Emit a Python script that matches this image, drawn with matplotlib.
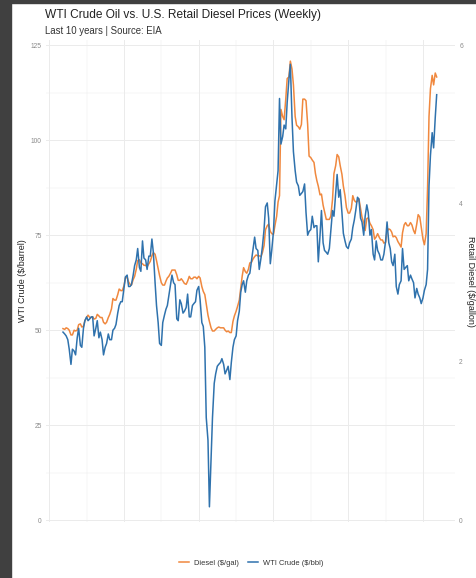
import matplotlib
matplotlib.use("Agg")
import matplotlib.pyplot as plt
import matplotlib.dates as mdates
from matplotlib.patches import Rectangle
from matplotlib.lines import Line2D
import pandas as pd

plt.rcParams['font.family'] = ['Liberation Sans', 'DejaVu Sans']

# ---- data (semi-monthly readings, mid-May 2016 .. mid-May 2026) ----
dates = pd.date_range("2016-05-15", "2026-05-15", freq="SMS")

wti = [
    # 2016 May15 .. Dec15
    49.5, 49.0, 48.5, 47.5, 45.0, 41.0, 45.0, 44.5, 43.5, 48.0, 50.5, 46.0, 45.5, 50.5, 52.5,
    # 2017
    53.5, 52.5, 53.0, 53.5, 53.5, 48.5, 50.5, 52.5, 48.0, 49.5, 47.5, 43.5, 45.5, 46.5, 49.0, 47.5,
    47.5, 50.0, 50.5, 51.5, 54.5, 56.5, 57.5, 57.5,
    # 2018
    61.0, 64.0, 64.5, 61.5, 61.5, 62.0, 64.5, 67.0, 68.5, 71.5, 66.5, 65.5, 73.5, 69.0, 68.5, 66.0,
    69.5, 69.5, 74.0, 70.5, 62.5, 56.5, 52.0, 46.5,
    # 2019
    46.0, 52.0, 54.0, 55.5, 56.5, 59.0, 62.0, 64.5, 62.5, 62.0, 53.0, 52.5, 58.0, 57.0, 54.5, 55.0,
    56.0, 59.5, 53.5, 53.5, 56.5, 57.0, 57.5, 60.5,
    # 2020
    61.5, 58.0, 52.0, 51.0, 45.5, 27.0, 21.0, 3.5, 16.0, 27.0, 36.0, 38.5, 40.5, 41.0, 41.5, 42.5,
    41.0, 38.5, 39.5, 40.5, 37.0, 41.5, 45.5, 47.5,
    # 2021
    48.5, 52.5, 55.0, 60.0, 62.0, 63.0, 60.0, 63.0, 64.5, 65.0, 68.5, 71.5, 74.5, 71.5, 71.0, 66.0,
    69.0, 72.0, 76.5, 82.5, 83.5, 79.5, 67.5, 71.0,
    # 2022
    76.0, 84.0, 88.5, 92.0, 111.0, 99.0, 101.0, 104.0, 103.0, 110.0, 116.0, 120.0, 106.0, 97.0, 92.0, 89.0,
    88.0, 85.5, 86.0, 86.5, 88.5, 81.0, 75.0, 76.0,
    # 2023
    76.5, 80.0, 77.0, 77.5, 77.5, 68.0, 75.0, 81.5, 73.0, 71.0, 70.5, 70.0, 71.5, 76.0, 81.5, 80.0,
    86.0, 91.0, 85.0, 87.0, 81.0, 75.5, 73.5, 72.0,
    # 2024
    71.5, 73.0, 74.0, 77.0, 79.0, 81.5, 85.0, 84.5, 79.5, 78.5, 75.0, 80.0, 83.0, 81.0, 75.0, 76.5,
    70.0, 68.5, 73.5, 71.0, 70.0, 68.5, 68.5, 70.0,
    # 2025
    73.5, 78.5, 73.0, 71.5, 68.0, 67.0, 70.0, 61.5, 59.5, 62.0, 63.0, 71.5, 66.0, 66.5, 67.0, 63.0,
    64.5, 63.5, 62.5, 58.5, 61.0, 59.5, 58.5, 57.0,
    # 2026 Jan1 .. May15
    58.5, 60.5, 62.0, 66.0, 88.0, 96.0, 102.0, 98.0, 106.0, 112.0,
]

diesel = [
    # 2016 May15 .. Dec15
    2.42, 2.41, 2.43, 2.42, 2.40, 2.34, 2.34, 2.40, 2.39, 2.40, 2.47, 2.48, 2.44, 2.45, 2.52,
    # 2017
    2.56, 2.59, 2.56, 2.56, 2.57, 2.54, 2.55, 2.60, 2.58, 2.56, 2.56, 2.50, 2.48, 2.50, 2.56, 2.60,
    2.67, 2.80, 2.78, 2.78, 2.85, 2.92, 2.90, 2.90,
    # 2018
    2.96, 3.06, 3.07, 3.01, 2.98, 2.97, 3.04, 3.08, 3.17, 3.28, 3.29, 3.25, 3.24, 3.22, 3.22, 3.20,
    3.24, 3.27, 3.34, 3.38, 3.36, 3.28, 3.18, 3.09,
    # 2019
    3.00, 2.97, 2.97, 3.02, 3.06, 3.08, 3.12, 3.16, 3.16, 3.16, 3.10, 3.03, 3.03, 3.05, 3.02, 2.99,
    2.98, 3.02, 3.08, 3.05, 3.05, 3.07, 3.07, 3.05,
    # 2020
    3.08, 3.06, 2.95, 2.89, 2.85, 2.73, 2.59, 2.51, 2.43, 2.39, 2.39, 2.41, 2.43, 2.44, 2.43, 2.43,
    2.43, 2.40, 2.38, 2.39, 2.37, 2.37, 2.51, 2.58,
    # 2021
    2.64, 2.70, 2.78, 2.93, 3.08, 3.19, 3.14, 3.12, 3.17, 3.25, 3.26, 3.30, 3.33, 3.35, 3.34, 3.34,
    3.33, 3.38, 3.47, 3.67, 3.72, 3.74, 3.65, 3.62,
    # 2022
    3.61, 3.72, 3.84, 4.02, 4.10, 5.19, 5.10, 5.06, 5.32, 5.58, 5.60, 5.80, 5.70, 5.50, 5.10, 4.99,
    4.97, 4.94, 5.00, 5.32, 5.32, 5.30, 5.00, 4.60,
    # 2023
    4.58, 4.55, 4.52, 4.38, 4.29, 4.22, 4.11, 4.12, 3.98, 3.90, 3.80, 3.80, 3.80, 3.84, 4.05, 4.38,
    4.48, 4.62, 4.59, 4.48, 4.37, 4.22, 4.10, 3.95,
    # 2024
    3.88, 3.88, 3.94, 4.10, 4.04, 4.02, 4.03, 4.06, 3.94, 3.83, 3.76, 3.66, 3.81, 3.82, 3.75, 3.72,
    3.67, 3.55, 3.58, 3.62, 3.57, 3.54, 3.54, 3.50,
    # 2025
    3.51, 3.65, 3.68, 3.67, 3.64, 3.58, 3.59, 3.57, 3.52, 3.49, 3.45, 3.63, 3.73, 3.76, 3.72, 3.72,
    3.76, 3.73, 3.66, 3.62, 3.74, 3.86, 3.83, 3.70,
    # 2026 Jan1 .. May15
    3.55, 3.48, 3.62, 4.20, 5.10, 5.45, 5.62, 5.50, 5.65, 5.60,
]

wti_ticks = [0, 25, 50, 75, 100, 125]
diesel_ticks = [0, 2, 4, 6]
year_ticks = [2016, 2018, 2020, 2022, 2024, 2026]

title = "WTI Crude Oil vs. U.S. Retail Diesel Prices (Weekly)"
subtitle = "Last 10 years | Source: EIA"

DIESEL_C = "#f0883e"
WTI_C = "#2f72ad"
GRID_C = "#ebebeb"
TICK_C = "#8a8a8a"

W, H = 477, 578
fig = plt.figure(figsize=(W / 100, H / 100), dpi=100)
fig.patch.set_facecolor("white")

# dark frame strips (left and top)
fig.add_artist(Rectangle((0, 0), 11 / W, 1, transform=fig.transFigure, color="#404040", zorder=0))
fig.add_artist(Rectangle((0, 1 - 3 / H), 1, 3 / H, transform=fig.transFigure, color="#404040", zorder=0))

left, right, top, bottom = 46, 455, 40, 522
ax_d = fig.add_axes([left / W, 1 - bottom / H, (right - left) / W, (bottom - top) / H])
ax = ax_d.twinx()
ax.yaxis.tick_left()
ax.yaxis.set_label_position("left")
ax_d.yaxis.tick_right()
ax_d.yaxis.set_label_position("right")
ax_d.set_zorder(1)
ax.set_zorder(2)
ax.patch.set_visible(False)

x = mdates.date2num(dates)
ymin, ymax = -0.5, 126.4
ax.set_ylim(ymin, ymax)
ax_d.set_ylim(ymin * 6 / 125, ymax * 6 / 125)

xlo = mdates.date2num(pd.Timestamp("2015-12-01"))
xhi = mdates.date2num(pd.Timestamp("2026-11-10"))
ax.set_xlim(xlo, xhi)
ax_d.set_xlim(xlo, xhi)

ax_d.plot(x, diesel, color=DIESEL_C, lw=1.1, solid_joinstyle="round")
ax.plot(x, wti, color=WTI_C, lw=1.1, solid_joinstyle="round")

major_x = [mdates.date2num(pd.Timestamp(f"{y}-01-01")) for y in year_ticks]
minor_x = [mdates.date2num(pd.Timestamp(f"{y}-01-01")) for y in range(2015, 2028, 2)]
for xv in major_x:
    ax_d.axvline(xv, color=GRID_C, lw=0.7, zorder=0)
for xv in minor_x:
    ax_d.axvline(xv, color=GRID_C, lw=0.35, zorder=0)
for yv in wti_ticks:
    ax_d.axhline(yv * 6 / 125, color=GRID_C, lw=0.7, zorder=0)
for yv in [12.5, 37.5, 62.5, 87.5, 112.5]:
    ax_d.axhline(yv * 6 / 125, color=GRID_C, lw=0.35, zorder=0)

ax.set_xticks(major_x)
ax.set_xticklabels([str(y) for y in year_ticks])
ax_d.set_xticks(major_x)
ax_d.set_xticklabels([str(y) for y in year_ticks])
ax.set_yticks(wti_ticks)
ax.set_yticklabels([str(v) for v in wti_ticks])
ax_d.set_yticks(diesel_ticks)
ax_d.set_yticklabels([str(v) for v in diesel_ticks])

for a in (ax, ax_d):
    for s in a.spines.values():
        s.set_visible(False)
    a.tick_params(length=0, labelsize=4.8, colors=TICK_C, pad=3)
ax.tick_params(axis="x", pad=9)
ax_d.tick_params(axis="x", labelbottom=False)

ax.set_ylabel("WTI Crude ($/barrel)", fontsize=6.5, color="#222222", labelpad=3)
ax_d.set_ylabel("Retail Diesel ($/gallon)", fontsize=6.5, color="#222222", rotation=270, labelpad=9)

fig.text(45 / W, 1 - 15 / H, title, fontsize=8.6, color="#222222", ha="left", va="center")
fig.text(45 / W, 1 - 31 / H, subtitle, fontsize=6.9, color="#333333", ha="left", va="center")

handles = [Line2D([], [], color=DIESEL_C, lw=1.1), Line2D([], [], color=WTI_C, lw=1.1)]
fig.legend(handles, ["Diesel ($/gal)", "WTI Crude ($/bbl)"], loc="center",
           bbox_to_anchor=(251 / W, 1 - 563 / H), ncol=2, frameon=False, fontsize=5.4,
           handlelength=1.4, handletextpad=0.6, columnspacing=1.2, labelcolor="#333333")

fig.savefig("out.png", dpi=100, facecolor="white")
